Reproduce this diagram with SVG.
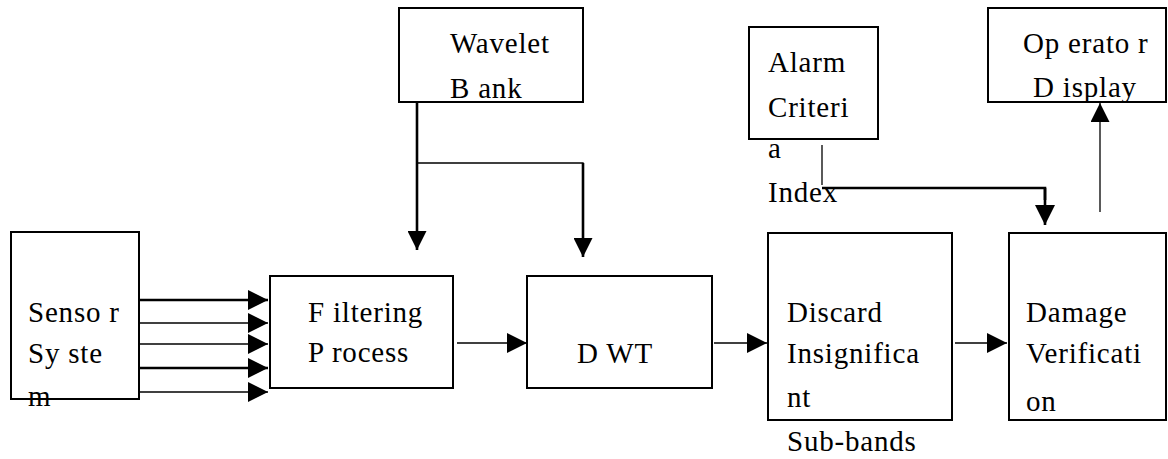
<svg xmlns="http://www.w3.org/2000/svg" width="1168" height="459" viewBox="0 0 1168 459">
<defs>
<style>
.box{fill:#fff;stroke:#000;stroke-width:2}
.t{font-family:"Liberation Serif","Times New Roman",serif;font-size:29px;fill:#000;letter-spacing:0.8px}
.thin{stroke:#000;stroke-width:1.3;fill:none}
.thick{stroke:#000;stroke-width:2.6;fill:none}
</style>
<marker id="ah" markerUnits="userSpaceOnUse" markerWidth="20" markerHeight="20" refX="20" refY="10" orient="auto" viewBox="0 0 20 20">
<path d="M0,0 L20,10 L0,20 z" fill="#000"/>
</marker>
<marker id="ahs" markerUnits="userSpaceOnUse" markerWidth="19" markerHeight="19" refX="19" refY="9.5" orient="auto" viewBox="0 0 19 19">
<path d="M0,0 L19,9.5 L0,19 z" fill="#000"/>
</marker>
</defs>
<rect width="1168" height="459" fill="#fff"/>

<g id="sensor">
<rect class="box" x="11" y="232" width="128" height="167"/>
<text class="t" x="28" y="322">Senso r</text>
<text class="t" x="28" y="363">Sy ste</text>
<text class="t" x="28" y="406">m</text>
</g>

<g id="filtering">
<rect class="box" x="270" y="276" width="183" height="112"/>
<text class="t" x="308" y="322">F iltering</text>
<text class="t" x="308" y="362">P rocess</text>
</g>

<g id="wavelet">
<rect class="box" x="399" y="8" width="184" height="94"/>
<text class="t" x="450" y="53">Wavelet</text>
<text class="t" x="450" y="98">B  ank</text>
</g>

<g id="dwt">
<rect class="box" x="527" y="276" width="185" height="112"/>
<text class="t" x="577" y="363">D  WT</text>
</g>

<g id="discard">
<rect class="box" x="768" y="233" width="184" height="187"/>
<text class="t" x="787" y="322">Discard</text>
<text class="t" x="787" y="363">Insignifica</text>
<text class="t" x="787" y="407">nt</text>
<text class="t" x="787" y="451">Sub-bands</text>
</g>

<g id="damage">
<rect class="box" x="1009" y="233" width="157" height="187"/>
<text class="t" x="1026" y="322">Damage</text>
<text class="t" x="1026" y="363">Verificati</text>
<text class="t" x="1026" y="411">on</text>
</g>

<g id="alarm">
<rect class="box" x="749" y="27" width="129" height="112"/>
<text class="t" x="768" y="72">Alarm</text>
<text class="t" x="768" y="117">Criteri</text>
<text class="t" x="768" y="158">a</text>
<text class="t" x="768" y="202">Index</text>
</g>

<g id="operator">
<rect class="box" x="988" y="8" width="178" height="94"/>
<text class="t" x="1023" y="53">Op erato r</text>
<text class="t" x="1033" y="97">D  isplay</text>
</g>

<g id="connectors">
<line class="thick" x1="139" y1="300" x2="268" y2="300" marker-end="url(#ah)"/>
<line class="thin" x1="139" y1="323" x2="268" y2="323" marker-end="url(#ah)"/>
<line class="thin" x1="139" y1="344" x2="268" y2="344" marker-end="url(#ah)"/>
<line class="thick" x1="139" y1="368" x2="268" y2="368" marker-end="url(#ah)"/>
<line class="thin" x1="139" y1="392" x2="268" y2="392" marker-end="url(#ah)"/>

<line class="thin" x1="457" y1="343" x2="527" y2="343" marker-end="url(#ah)"/>
<line class="thin" x1="714" y1="343" x2="767" y2="343" marker-end="url(#ah)"/>
<line class="thin" x1="955" y1="343" x2="1007" y2="343" marker-end="url(#ah)"/>

<line class="thick" x1="417" y1="102" x2="417" y2="250" marker-end="url(#ahs)"/>
<polyline class="thin" points="417,163 583,163 583,170"/>
<line class="thick" x1="583" y1="163" x2="583" y2="257" marker-end="url(#ahs)"/>

<line class="thin" x1="822" y1="145" x2="822" y2="185"/>
<polyline class="thick" points="822,188 1045,188 1045,200"/>
<line class="thick" x1="1045" y1="188" x2="1045" y2="225" marker-end="url(#ah)"/>

<line class="thin" x1="1100" y1="212" x2="1100" y2="103" marker-end="url(#ahs)"/>
</g>
</svg>
